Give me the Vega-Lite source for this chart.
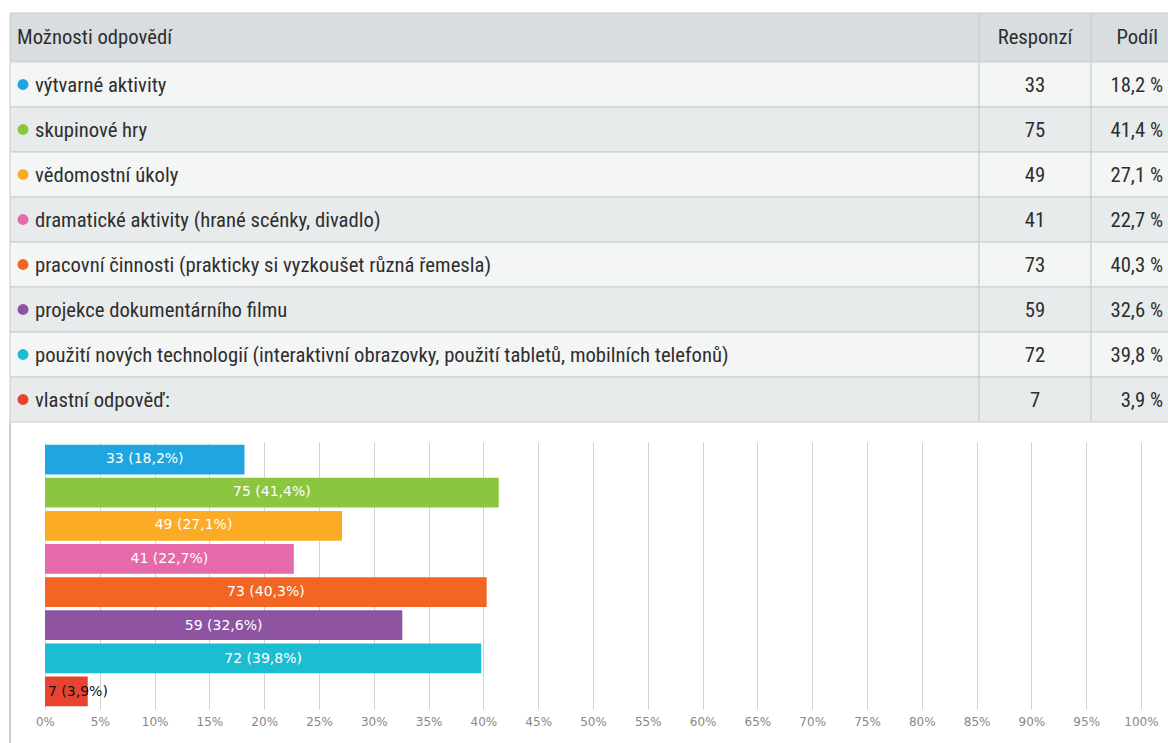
{
  "$schema": "https://vega.github.io/schema/vega-lite/v6.json",
  "background": "white",
  "padding": {"left": 9, "top": 12, "right": 0, "bottom": 0},
  "spacing": -1,
  "config": {
    "view": {"stroke": null},
    "text": {"font": "Roboto Condensed", "fontSize": 20.7, "color": "#2e2e2e", "baseline": "middle"}
  },
  "datasets": {
    "answers": [
      {"option": "výtvarné aktivity", "count": 33, "share": 18.2, "podil": "18,2 %", "barlabel": "33 (18,2%)"},
      {"option": "skupinové hry", "count": 75, "share": 41.4, "podil": "41,4 %", "barlabel": "75 (41,4%)"},
      {"option": "vědomostní úkoly", "count": 49, "share": 27.1, "podil": "27,1 %", "barlabel": "49 (27,1%)"},
      {"option": "dramatické aktivity (hrané scénky, divadlo)", "count": 41, "share": 22.7, "podil": "22,7 %", "barlabel": "41 (22,7%)"},
      {"option": "pracovní činnosti (prakticky si vyzkoušet různá řemesla)", "count": 73, "share": 40.3, "podil": "40,3 %", "barlabel": "73 (40,3%)"},
      {"option": "projekce dokumentárního filmu", "count": 59, "share": 32.6, "podil": "32,6 %", "barlabel": "59 (32,6%)"},
      {"option": "použití nových technologií (interaktivní obrazovky, použití tabletů, mobilních telefonů)", "count": 72, "share": 39.8, "podil": "39,8 %", "barlabel": "72 (39,8%)"},
      {"option": "vlastní odpověď:", "count": 7, "share": 3.9, "podil": "3,9 %", "barlabel": "7 (3,9%)"}
    ]
  },
  "vconcat": [
    {
      "hconcat": [
        {
          "width": 969, "height": 48,
          "data": {"values": [{"h": "Možnosti odpovědí"}]},
          "layer": [
            {"mark": {"type": "rect", "fill": "#d8dde0", "stroke": "#c6ccd0"}, "encoding": {}},
            {"mark": {"type": "text", "align": "left", "dx": 7, "dy": 1},
             "encoding": {"x": {"datum": 0, "type": "quantitative", "scale": {"domain": [0, 1]}, "axis": null}, "text": {"field": "h"}}}
          ]
        },
        {
          "width": 112, "height": 48,
          "data": {"values": [{"h": "Responzí"}]},
          "layer": [
            {"mark": {"type": "rect", "fill": "#d8dde0", "stroke": "#c6ccd0"}, "encoding": {}},
            {"mark": {"type": "text", "align": "center", "dy": 1}, "encoding": {"text": {"field": "h"}}}
          ]
        },
        {
          "width": 79, "height": 48,
          "data": {"values": [{"h": "Podíl"}]},
          "layer": [
            {"mark": {"type": "rect", "fill": "#d8dde0", "stroke": "#c6ccd0"}, "encoding": {}},
            {"mark": {"type": "text", "align": "right", "dx": -12, "dy": 1},
             "encoding": {"x": {"datum": 1, "type": "quantitative", "scale": {"domain": [0, 1]}, "axis": null}, "text": {"field": "h"}}}
          ]
        }
      ],
      "spacing": 0,
      "bounds": "flush"
    },
    {
      "hconcat": [
        {
          "width": 969, "height": 360,
          "data": {"name": "answers"},
          "encoding": {"y": {"field": "option", "type": "nominal", "sort": null, "scale": {"paddingInner": 0, "paddingOuter": 0}, "axis": null}},
          "layer": [
            {"mark": {"type": "rect", "stroke": "#c6ccd0", "strokeWidth": 1},
             "encoding": {"fill": {"field": "option", "type": "nominal", "sort": null, "legend": null,
               "scale": {"range": ["#f4f5f5", "#e8ebec", "#f4f5f5", "#e8ebec", "#f4f5f5", "#e8ebec", "#f4f5f5", "#e8ebec"]}}}},
            {"mark": {"type": "point", "filled": true, "size": 120, "opacity": 1, "xOffset": 13},
             "encoding": {"x": {"datum": 0, "type": "quantitative", "scale": {"domain": [0, 1]}, "axis": null},
               "color": {"field": "option", "type": "nominal", "sort": null, "legend": null,
                 "scale": {"range": ["#1fa6e0", "#8cc63f", "#fbab25", "#e56aaa", "#f26522", "#8e54a1", "#1cbcd2", "#e8432f"]}}}},
            {"mark": {"type": "text", "align": "left", "dx": 25, "dy": 1.5},
             "encoding": {"x": {"datum": 0, "type": "quantitative"}, "text": {"field": "option"}}}
          ]
        },
        {
          "width": 112, "height": 360,
          "data": {"name": "answers"},
          "encoding": {"y": {"field": "option", "type": "nominal", "sort": null, "scale": {"paddingInner": 0, "paddingOuter": 0}, "axis": null}},
          "layer": [
            {"mark": {"type": "rect", "stroke": "#c6ccd0", "strokeWidth": 1},
             "encoding": {"fill": {"field": "option", "type": "nominal", "sort": null, "legend": null,
               "scale": {"range": ["#f4f5f5", "#e8ebec", "#f4f5f5", "#e8ebec", "#f4f5f5", "#e8ebec", "#f4f5f5", "#e8ebec"]}}}},
            {"mark": {"type": "text", "align": "center", "dy": 1.5}, "encoding": {"text": {"field": "count"}}}
          ]
        },
        {
          "width": 79, "height": 360,
          "data": {"name": "answers"},
          "encoding": {"y": {"field": "option", "type": "nominal", "sort": null, "scale": {"paddingInner": 0, "paddingOuter": 0}, "axis": null}},
          "layer": [
            {"mark": {"type": "rect", "stroke": "#c6ccd0", "strokeWidth": 1},
             "encoding": {"fill": {"field": "option", "type": "nominal", "sort": null, "legend": null,
               "scale": {"range": ["#f4f5f5", "#e8ebec", "#f4f5f5", "#e8ebec", "#f4f5f5", "#e8ebec", "#f4f5f5", "#e8ebec"]}}}},
            {"mark": {"type": "text", "align": "right", "dx": -7, "dy": 1.5},
             "encoding": {"x": {"datum": 1, "type": "quantitative", "scale": {"domain": [0, 1]}, "axis": null}, "text": {"field": "podil"}}}
          ]
        }
      ],
      "spacing": 0,
      "bounds": "flush"
    },
    {
      "width": 1159, "height": 267,
      "data": {"name": "answers"},
      "resolve": {"scale": {"x": "independent", "y": "independent"}},
      "layer": [
        {"mark": {"type": "rule", "color": "#c6ccd0", "strokeWidth": 1},
         "encoding": {
           "x": {"datum": 0, "type": "quantitative", "scale": {"domain": [0, 1]}, "axis": null},
           "y": {"datum": 1.073, "type": "quantitative", "scale": {"domain": [0, 1], "nice": false, "zero": false}, "axis": null},
           "y2": {"datum": -0.2}}},
        {"mark": {"type": "bar"},
         "encoding": {
           "y": {"field": "option", "type": "nominal", "sort": null, "scale": {"paddingInner": 0.1, "paddingOuter": 0.08},
             "axis": {"orient": "left", "offset": -35, "labels": false, "ticks": false, "grid": false, "domain": true, "domainColor": "#d5dde2", "title": null}},
           "x": {"field": "share", "type": "quantitative",
             "scale": {"domain": [0, 100], "range": [35, 1131], "nice": false},
             "axis": {"values": [0, 5, 10, 15, 20, 25, 30, 35, 40, 45, 50, 55, 60, 65, 70, 75, 80, 85, 90, 95, 100],
               "labelExpr": "datum.value + '%'", "grid": true, "gridColor": "#d2d2d2", "ticks": false, "domain": false,
               "labelFont": "DejaVu Sans", "labelFontSize": 12, "labelColor": "#888888", "labelPadding": 7,
               "title": null, "labelFlush": false}},
           "color": {"field": "option", "type": "nominal", "sort": null, "legend": null,
             "scale": {"range": ["#1fa6e0", "#8cc63f", "#fbab25", "#e56aaa", "#f26522", "#8e54a1", "#1cbcd2", "#e8432f"]}}}},
        {"transform": [{"filter": "datum.share >= 10"}],
         "mark": {"type": "text", "color": "white", "font": "DejaVu Sans", "fontSize": 14, "align": "center"},
         "encoding": {
           "y": {"field": "option", "type": "nominal", "sort": null, "scale": {"domain": ["výtvarné aktivity", "skupinové hry", "vědomostní úkoly", "dramatické aktivity (hrané scénky, divadlo)", "pracovní činnosti (prakticky si vyzkoušet různá řemesla)", "projekce dokumentárního filmu", "použití nových technologií (interaktivní obrazovky, použití tabletů, mobilních telefonů)", "vlastní odpověď:"], "paddingInner": 0.1, "paddingOuter": 0.08}, "axis": null},
           "x": {"field": "share", "type": "quantitative", "scale": {"domain": [0, 200], "range": [35, 1131], "nice": false}, "axis": null},
           "text": {"field": "barlabel"}}},
        {"transform": [{"filter": "datum.share < 10"}],
         "mark": {"type": "text", "color": "#111111", "font": "DejaVu Sans", "fontSize": 14, "align": "left", "dx": 3},
         "encoding": {
           "y": {"field": "option", "type": "nominal", "sort": null, "scale": {"domain": ["výtvarné aktivity", "skupinové hry", "vědomostní úkoly", "dramatické aktivity (hrané scénky, divadlo)", "pracovní činnosti (prakticky si vyzkoušet různá řemesla)", "projekce dokumentárního filmu", "použití nových technologií (interaktivní obrazovky, použití tabletů, mobilních telefonů)", "vlastní odpověď:"], "paddingInner": 0.1, "paddingOuter": 0.08}, "axis": null},
           "x": {"datum": 0, "type": "quantitative", "scale": {"domain": [0, 100], "range": [35, 1131], "nice": false}, "axis": null},
           "text": {"field": "barlabel"}}}
      ]
    }
  ]
}
